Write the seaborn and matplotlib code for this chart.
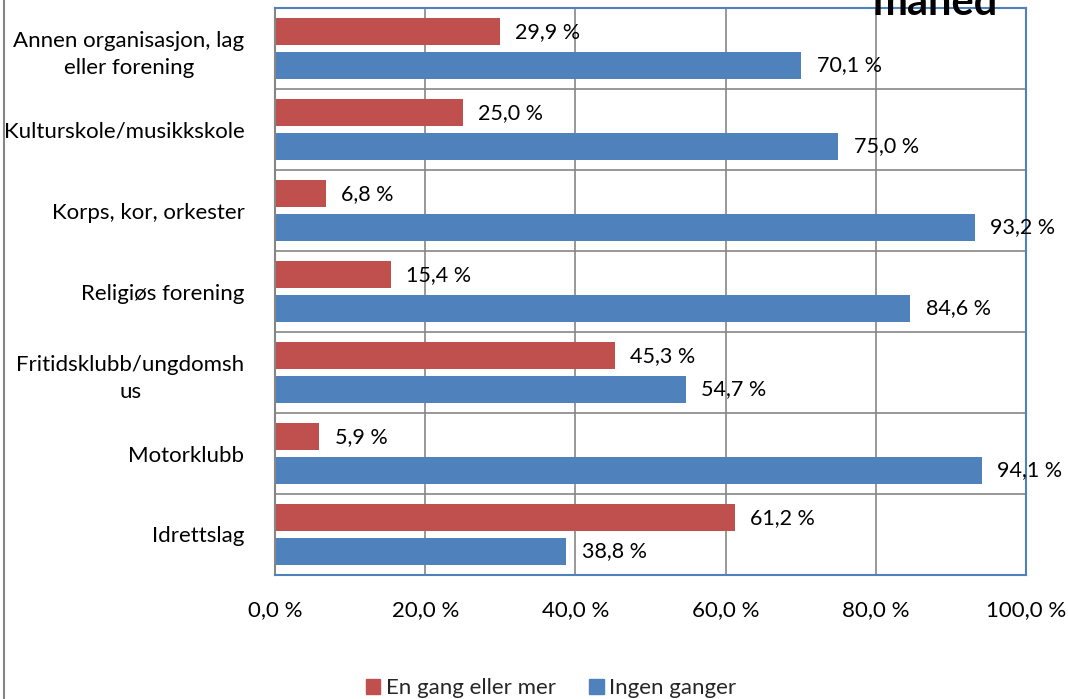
import matplotlib
matplotlib.use("Agg")
import matplotlib.pyplot as plt
from matplotlib.lines import Line2D
import seaborn as sns
import pandas as pd

categories = [
    "Annen organisasjon, lag\neller forening",
    "Kulturskole/musikkskole",
    "Korps, kor, orkester",
    "Religiøs forening",
    "Fritidsklubb/ungdomsh\nus",
    "Motorklubb",
    "Idrettslag",
]
series_names = ["En gang eller mer", "Ingen ganger"]
once_or_more = [29.9, 25.0, 6.8, 15.4, 45.3, 5.9, 61.2]
never = [70.1, 75.0, 93.2, 84.6, 54.7, 94.1, 38.8]
x_ticks = [0, 20, 40, 60, 80, 100]

RED = "#C0504D"
BLUE = "#4F81BD"
GRID = "#868686"
FS = 16

sns.set_theme(style="white")
plt.rcParams["font.family"] = ["Lato", "DejaVu Sans"]

df = pd.DataFrame({
    "kategori": categories * 2,
    "andel": once_or_more + never,
    "serie": [series_names[0]] * len(categories) + [series_names[1]] * len(categories),
})

fig = plt.figure(figsize=(10.68, 6.99), dpi=100)
ax = fig.add_axes([275 / 1068, 1 - 575 / 699, (1026 - 275) / 1068, (575 - 8) / 699])

sns.barplot(
    data=df, y="kategori", x="andel", hue="serie", orient="h",
    order=categories, hue_order=series_names,
    palette=[RED, BLUE], width=0.83, gap=0.21, ax=ax, legend=False,
    edgecolor="none", saturation=1,
)

ax.set_xlim(0, 100)
ax.set_ylim(len(categories) - 0.5, -0.5)
ax.set_xticks(x_ticks)
ax.set_xticklabels([f"{t:.1f}".replace(".", ",") + " %" for t in x_ticks], fontsize=FS)
ax.set_xlabel("")
ax.set_ylabel("")
ax.tick_params(axis="x", length=0, pad=18, colors="black")
ax.tick_params(axis="y", length=0, pad=22, colors="black")
for lbl in ax.get_yticklabels():
    lbl.set_fontsize(FS)
    lbl.set_multialignment("center")
    lbl.set_linespacing(1.45)

# vertical gridlines and category separators
for t in x_ticks[1:-1]:
    ax.axvline(t, color=GRID, lw=1.2, zorder=0)
for b in range(len(categories) - 1):
    ax.axhline(b + 0.5, color=GRID, lw=1.2, zorder=0)

for side in ["top", "right", "bottom"]:
    ax.spines[side].set_color(BLUE)
    ax.spines[side].set_linewidth(1.5)
ax.spines["left"].set_color(GRID)
ax.spines["left"].set_linewidth(1.5)

for container in ax.containers:
    vals = container.datavalues
    ax.bar_label(container, labels=[f"{v:.1f}".replace(".", ",") + " %" for v in vals],
                 padding=11, fontsize=15.5, color="black")

handles = [plt.Rectangle((0, 0), 1, 1, color=c) for c in (RED, BLUE)]
fig.legend(handles, series_names, loc="center", bbox_to_anchor=(0.516, 1 - 688 / 699),
           ncol=2, frameon=False, fontsize=FS, handlelength=0.65, handleheight=0.65,
           handletextpad=0.25, columnspacing=1.5)

fig.text(0.8755, 1 - 15 / 699, "måned", ha="center", va="baseline",
         fontsize=30, fontweight="bold", color="black")

fig.add_artist(Line2D([3.5 / 1068, 3.5 / 1068], [0, 1], transform=fig.transFigure,
                      color=GRID, lw=1.5))

fig.savefig("out.png", dpi=100)
